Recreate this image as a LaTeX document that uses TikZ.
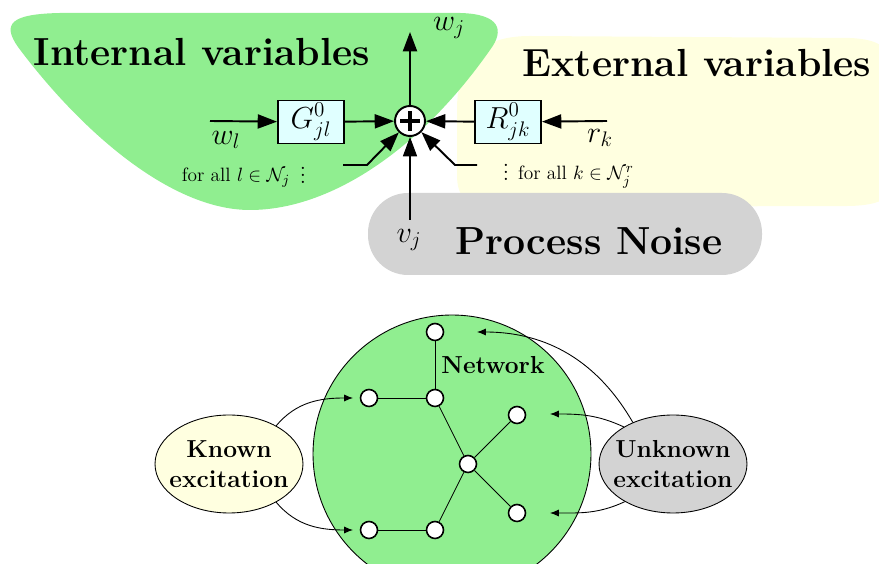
\documentclass[tikz,border=0pt]{standalone}
\usepackage{tikz}
\usepackage{amsmath}
\usetikzlibrary{arrows.meta,shapes.geometric}

\definecolor{lgreen}{RGB}{144,238,144}
\definecolor{lyellow}{RGB}{255,255,224}
\definecolor{lgray}{RGB}{211,211,211}
\definecolor{lcyan}{RGB}{224,255,255}

\begin{document}
\begin{tikzpicture}[x=0.02cm,y=0.02cm,
		sig/.style={line width=1.1pt,-{Triangle[length=11pt,width=8pt]}},
		blk/.style={draw,line width=1.1pt,fill=lcyan,minimum width=1.32cm,minimum height=0.86cm,inner sep=0pt,font=\fontsize{18}{22}\selectfont},
		lbl/.style={font=\fontsize{18}{22}\selectfont},
		big/.style={anchor=base,font=\fontsize{22.3}{26}\selectfont\bfseries},
		forall/.style={inner sep=0pt,font=\fontsize{11}{13}\selectfont},
		vert/.style={circle,draw,fill=white,line width=0.9pt,minimum size=0.34cm,inner sep=0pt},
		exc/.style={ellipse,draw,line width=0.5pt,minimum width=2.96cm,minimum height=1.96cm,inner sep=0pt},
		exctext/.style={align=center,inner sep=0pt,font=\fontsize{14}{17}\selectfont\bfseries},
		feed/.style={line width=0.5pt,-{Latex[length=5pt,width=4pt]}}
	]
		\useasboundingbox (0,0) rectangle (879,564);

		\fill[lyellow] (530,528) -- (850,526) .. controls (895,524) and (900,505) .. (900,440)
			-- (900,400) .. controls (900,365) and (880,359) .. (850,358) -- (490,357)
			.. controls (465,357) and (457,369) .. (457,389) -- (457,454)
			.. controls (457,504) and (480,528) .. (530,528) -- cycle;
		\fill[lgreen] (250,354) .. controls (170,354) and (80,434) .. (18,517)
			.. controls (2,540) and (10,550) .. (60,551) -- (460,551)
			.. controls (500,550) and (505,534) .. (490,514)
			.. controls (420,414) and (330,354) .. (250,354) -- cycle;
		\fill[lgray, rounded corners=0.8cm] (368,289) rectangle (762,371);

		\node[big] (intl) at (202,498) {Internal variables};
		\node[big] (extl) at (697,487) {External variables};
		\node[big] (noisel) at (589,309) {Process Noise};

		\node[circle,draw,fill=white,line width=1.1pt,minimum size=0.6cm,inner sep=0pt] (sum) at (410,443) {};
		\draw[line width=2.3pt] (sum.center) +(-10,0) -- +(10,0);
		\draw[line width=2.3pt] (sum.center) +(0,-10) -- +(0,10);

		\node[blk] (G) at (311,442) {$G^0_{jl}$};
		\node[blk] (R) at (508,442) {$R^0_{jk}$};

		\coordinate (wl) at (210,443);
		\coordinate (wj) at (410,532);
		\coordinate (rk) at (607,443);
		\coordinate (vj) at (410,344);
		\coordinate (in1) at (343,399);
		\coordinate (in2) at (477,399);

		\draw[sig] (wl) -- (G);
		\draw[sig] (G) -- (sum);
		\draw[sig] (rk) -- (R);
		\draw[sig] (R) -- (sum);
		\draw[sig] (sum) -- (wj);
		\draw[sig, line width=0.6pt] (vj) -- (sum);
		\draw[sig] (in1) -- ++(24,0) -- (sum);
		\draw[sig] (in2) -- ++(-22,0) -- (sum);

		\node[lbl] (wjl) at (449,536) {$w_j$};
		\node[lbl] (wll) at (226,424) {$w_l$};
		\node[lbl] (rkl) at (600,426) {$r_k$};
		\node[lbl] (vjl) at (409,324) {$v_j$};

		\node[forall,font=\fontsize{13}{15}\selectfont] (dots1) at (303,394) {$\vdots$};
		\node[forall,font=\fontsize{13}{15}\selectfont] (dots2) at (506,397) {$\vdots$};
		\node[forall] (alll) at (236,386) {for all $l\in\mathcal{N}_j$};
		\node[forall] (allk) at (576,387) {for all $k\in\mathcal{N}_j^r$};

		\node[circle,draw,fill=lgreen,line width=0.5pt,minimum size=5.56cm,inner sep=0pt] (net) at (452,110) {};
		\node[anchor=base,font=\fontsize{14}{17}\selectfont\bfseries] (netl) at (493,190) {Network};

		\node[vert] (n1) at (435,232) {};
		\node[vert] (n2) at (435,166) {};
		\node[vert] (n3) at (369,166) {};
		\node[vert] (n4) at (468,100) {};
		\node[vert] (n5) at (517,149) {};
		\node[vert] (n6) at (517,51) {};
		\node[vert] (n7) at (435,34) {};
		\node[vert] (n8) at (369,34) {};

		\draw[line width=0.5pt] (n1) -- (n2);
		\draw[line width=0.5pt] (n3) -- (n2);
		\draw[line width=0.5pt] (n2) -- (n4);
		\draw[line width=0.5pt] (n4) -- (n5);
		\draw[line width=0.5pt] (n4) -- (n6);
		\draw[line width=0.5pt] (n4) -- (n7);
		\draw[line width=0.5pt] (n7) -- (n8);

		\node[exc,fill=lyellow] (known) at (229,100) {};
		\node[exctext] (knownl) at (known) {Known\\excitation};
		\node[exc,fill=lgray] (unknown) at (673,100) {};
		\node[exctext] (unknownl) at (unknown) {Unknown\\excitation};

		\coordinate (t3) at (353,166);
		\coordinate (t8) at (353,34);
		\coordinate (t1) at (477,232);
		\coordinate (t5) at (550,150);
		\coordinate (t6) at (550,51);

		\draw[feed] (known.39) to[out=50,in=180] (t3);
		\draw[feed] (known.-39) to[out=-50,in=180] (t8);
		\draw[feed] (unknown.134) to[out=120,in=0] (t1);
		\draw[feed] (unknown.143) to[out=155,in=0] (t5);
		\draw[feed] (unknown.218) to[out=205,in=0] (t6);
	\end{tikzpicture}
\end{document}
